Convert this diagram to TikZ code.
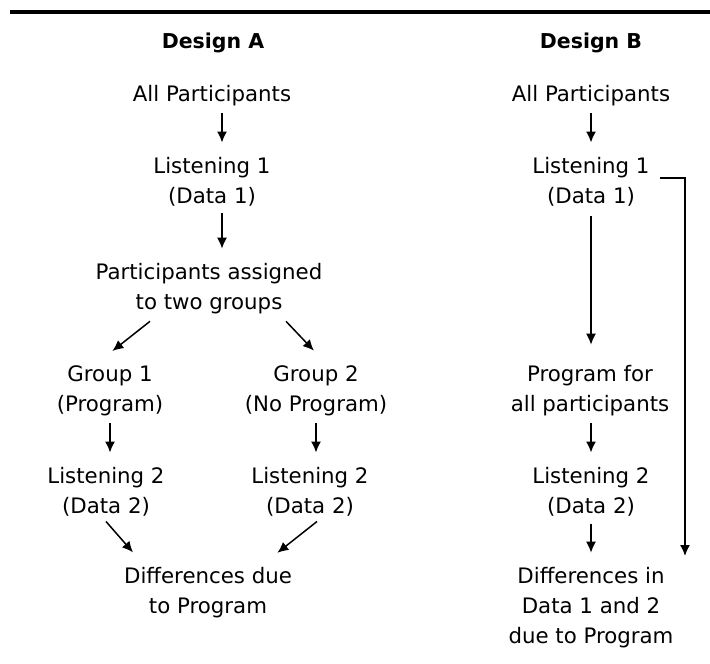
\documentclass[tikz,border=0pt]{standalone}
\usepackage{fontspec}
\setmainfont{DejaVu Sans}
\usetikzlibrary{arrows.meta}
\begin{document}
\begin{tikzpicture}[x=1pt,y=-1pt,
 lbl/.style={align=center,inner sep=0pt,outer ysep=7pt,font=\fontsize{21.3}{30}\selectfont},
 hdr/.style={inner sep=0pt,font=\fontsize{20.5}{30}\selectfont\bfseries},
 arr/.style={-{Latex[length=11pt,width=10pt]},line width=1.5pt,shorten >=8pt},
 diag/.style={arr,shorten >=3pt}]
\useasboundingbox (0,0) rectangle (710,664);
\coordinate (r1) at (10,12);
\coordinate (r2) at (710,12);
\draw[line width=4pt] (r1) -- (r2);
% Design A
\node[hdr] (ha) at (213,43) {Design A};
\node[lbl] (a0) at (212,96) {All Participants};
\node[lbl] (a1) at (212,182) {Listening 1\\(Data 1)};
\node[lbl] (a2) at (209,289) {Participants assigned\\to two groups};
\node[lbl] (g1) at (110,391) {Group 1\\(Program)};
\node[lbl] (g2) at (316,391) {Group 2\\(No Program)};
\node[lbl] (l1) at (106,492) {Listening 2\\(Data 2)};
\node[lbl] (l2) at (310,492) {Listening 2\\(Data 2)};
\node[lbl] (d) at (208,593) {Differences due\\to Program};
% Design B
\node[hdr] (hb) at (591,43) {Design B};
\node[lbl] (b0) at (591,96) {All Participants};
\node[lbl] (b1) at (591,182) {Listening 1\\(Data 1)};
\node[lbl] (b2) at (590,391) {Program for\\all participants};
\node[lbl] (b3) at (591,492) {Listening 2\\(Data 2)};
\node[lbl] (b4) at (591,608) {Differences in\\Data 1 and 2\\due to Program};
\coordinate (br) at (685,564);
% arrows A
\draw[arr] ([xshift=10pt]a0.south) -- ([xshift=10pt]a1.north);
\draw[arr] ([xshift=10pt]a1.south) -- ([xshift=10pt]a1.south |- a2.north);
\draw[diag] ([xshift=-59pt]a2.south) -- ([yshift=6pt]g1.north);
\draw[diag] ([xshift=77pt]a2.south) -- ([yshift=6pt]g2.north);
\draw[arr] (g1.south) -- (g1.south |- l1.north);
\draw[arr] (g2.south) -- (g2.south |- l2.north);
\draw[diag] ([yshift=2pt]l1.south) -- ([xshift=-73pt,yshift=6pt]d.north);
\draw[diag] ([xshift=7pt,yshift=2pt]l2.south) -- ([xshift=67pt,yshift=6pt]d.north);
% arrows B
\draw[arr] (b0.south) -- (b0.south |- b1.north);
\draw[arr,shorten >=14pt] ([yshift=-3pt]b1.south) -- (b1.south |- b2.north);
\draw[arr] (b1.south |- b2.south) -- (b1.south |- b3.north);
\draw[arr] (b1.south |- b3.south) -- (b1.south |- b4.north);
\draw[arr] ([xshift=10pt,yshift=4pt]b1.east) -| (br);
\end{tikzpicture}
\end{document}
